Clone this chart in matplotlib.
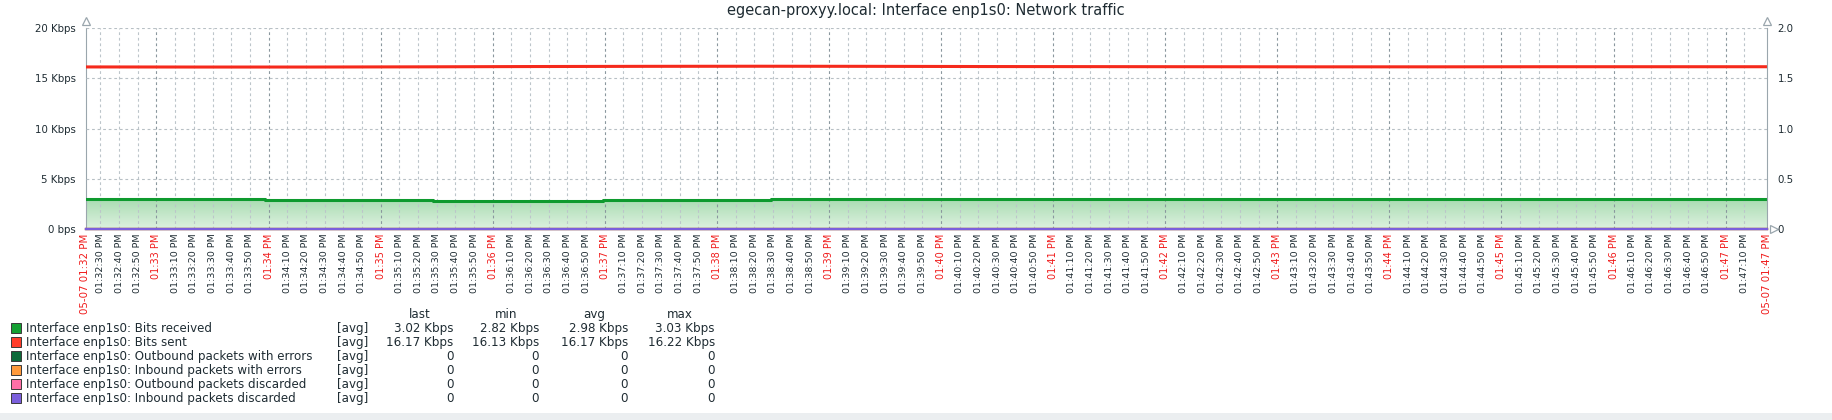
import numpy as np
import matplotlib
matplotlib.use("Agg")
import matplotlib.pyplot as plt
from matplotlib.patches import Rectangle
from matplotlib.colors import LinearSegmentedColormap
from matplotlib.ticker import FixedLocator, FuncFormatter

W, H = 1833, 420

title = "egecan-proxyy.local: Interface enp1s0: Network traffic"
start_label = "05-07 01:32 PM"
end_label = "05-07 01:47 PM"

# time axis: seconds after 01:32:00 PM
t_start, t_end = 22, 922

rx_times = [22, 118, 208, 299, 389, 922]
rx_kbps = [3.03, 2.90, 2.82, 2.92, 3.02, 3.02]

tx_times = [22, 82, 142, 202, 262, 322, 382, 442, 502, 562, 622, 682, 742, 802, 862, 922]
tx_kbps = [16.15, 16.14, 16.14, 16.16, 16.19, 16.21, 16.22, 16.21,
           16.19, 16.18, 16.17, 16.16, 16.16, 16.17, 16.17, 16.17]

pkt_times = [22, 922]
out_err = [0, 0]
in_err = [0, 0]
out_disc = [0, 0]
in_disc = [0, 0]

legend_names = ["Interface enp1s0: Bits received", "Interface enp1s0: Bits sent",
                "Interface enp1s0: Outbound packets with errors", "Interface enp1s0: Inbound packets with errors",
                "Interface enp1s0: Outbound packets discarded", "Interface enp1s0: Inbound packets discarded"]
legend_colors = ["#14a033", "#ff3d2a", "#0c6b3a", "#ff9a3c", "#ff6fa6", "#7b5fdc"]
stat_heads = ["last", "min", "avg", "max"]
stat_last = ["3.02 Kbps", "16.17 Kbps", "0", "0", "0", "0"]
stat_min = ["2.82 Kbps", "16.13 Kbps", "0", "0", "0", "0"]
stat_avg = ["2.98 Kbps", "16.17 Kbps", "0", "0", "0", "0"]
stat_max = ["3.03 Kbps", "16.22 Kbps", "0", "0", "0", "0"]

txt = "#1f2c33"
red_txt = "#f01c1c"
axis_col = "#9aa6ad"

fig = plt.figure(figsize=(W / 100, H / 100), dpi=100)
x0, x1, ytop, ybot = 85.5, 1766.7, 28.3, 229.0
ax = fig.add_axes([x0 / W, 1 - ybot / H, (x1 - x0) / W, (ybot - ytop) / H])
ax2 = ax.twinx()

# gradient fill under received line
cmap = LinearSegmentedColormap.from_list("g", ["#def2e0", "#a8dbb1"])
grad = np.linspace(0, 1, 256).reshape(-1, 1)
im = ax.imshow(grad, extent=[t_start, t_end, 0, max(rx_kbps)], origin="lower",
               aspect="auto", cmap=cmap, zorder=1)
fill = ax.fill_between(rx_times, rx_kbps, step="post", facecolor="none", edgecolor="none")
im.set_clip_path(fill.get_paths()[0], ax.transData)

ax.plot(rx_times, rx_kbps, drawstyle="steps-post", color="#0e9a2e", lw=2.2, zorder=3)
ax.plot(tx_times, tx_kbps, color="#f52a1c", lw=2.2, zorder=3)

for vals, col in zip([out_err, in_err, out_disc, in_disc], legend_colors[2:]):
    ax2.plot(pkt_times, vals, color=col, lw=1.6, clip_on=False, zorder=3)

ax.set_xlim(t_start, t_end)
ax.set_ylim(0, 20)
ax2.set_ylim(0, 2)

# grid
ax.xaxis.set_major_locator(FixedLocator(np.arange(60, 901, 60)))
ax.xaxis.set_minor_locator(FixedLocator(np.arange(30, 911, 10)))
ax.xaxis.set_major_formatter(FuncFormatter(lambda s, p: f"01:{32 + int(s) // 60:02d} PM"))
ax.xaxis.set_minor_formatter(FuncFormatter(lambda s, p: f"01:{32 + int(s) // 60:02d}:{int(s) % 60:02d} PM"))
ax.set_yticks([0, 5, 10, 15, 20])
ax.yaxis.set_major_formatter(FuncFormatter(lambda v, p: "0 bps" if v == 0 else f"{v:g} Kbps"))
ax2.set_yticks([0, 0.5, 1, 1.5, 2])
ax2.yaxis.set_major_formatter(FuncFormatter(lambda v, p: "0" if v == 0 else f"{v:.1f}"))

ax.set_axisbelow(False)
ax.grid(axis="x", which="minor", color="#bcc5ca", lw=0.8, ls=(0, (2.5, 2.5)), zorder=2)
ax.grid(axis="x", which="major", color="#8a979e", lw=0.8, ls=(0, (2.5, 2.5)), zorder=2)
ax.grid(axis="y", which="major", color="#b8c0c5", lw=0.8, ls=(0, (2.5, 2.5)), zorder=2)

ax.tick_params(axis="x", which="both", length=0, pad=3, labelrotation=90, labelsize=6.8, labelcolor=txt)
ax.tick_params(axis="x", which="major", labelcolor=red_txt, labelsize=7.0)
ax.tick_params(axis="y", length=0, pad=7, labelsize=7.4, labelcolor=txt)
ax2.tick_params(axis="y", length=0, pad=8, labelsize=7.4, labelcolor=txt)

for a in (ax, ax2):
    a.spines["top"].set_visible(False)
    a.spines["left"].set_color(axis_col)
    a.spines["right"].set_color(axis_col)
    a.spines["bottom"].set_color(axis_col)
ax2.spines["left"].set_visible(False)
ax.spines["right"].set_visible(False)

# axis arrows
ax.plot([0], [1 + 7 / 200.7], marker="^", ms=6, mfc="white", mec=axis_col, mew=0.9,
        transform=ax.transAxes, clip_on=False)
ax.plot([1], [1 + 7 / 200.7], marker="^", ms=6, mfc="white", mec=axis_col, mew=0.9,
        transform=ax.transAxes, clip_on=False)
ax.plot([1 + 7 / 1681], [0], marker=">", ms=6, mfc="white", mec=axis_col, mew=0.9,
        transform=ax.transAxes, clip_on=False)

for t, lab in [(t_start, start_label), (t_end, end_label)]:
    ax.annotate(lab, xy=(t, 0), xycoords=("data", "axes fraction"), xytext=(0, -3),
                textcoords="offset points", rotation=90, ha="center", va="top",
                color=red_txt, fontsize=7.4)

fig.text(926 / W, 1 - 11 / H, title, ha="center", va="center", fontsize=10.5, color=txt)


def fx(x):
    return x / W


def fy(y):
    return 1 - y / H


lsize = 8.6
for xc, head in zip([420, 506, 594, 680], stat_heads):
    fig.text(fx(xc), fy(314.5), head, ha="center", va="center", fontsize=lsize, color=txt)

for i, (name, col) in enumerate(zip(legend_names, legend_colors)):
    yc = 328.3 + 14 * i
    fig.add_artist(Rectangle((fx(10.7), fy(yc + 5)), 10 / W, 10 / H, transform=fig.transFigure,
                             facecolor=col, edgecolor="#3a3a3a", lw=0.7))
    fig.text(fx(26), fy(yc), name, ha="left", va="center", fontsize=lsize, color=txt)
    fig.text(fx(336.7), fy(yc), "[avg]", ha="left", va="center", fontsize=lsize, color=txt)
    for xr, col_vals in zip([453.6, 539, 628, 715], [stat_last, stat_min, stat_avg, stat_max]):
        fig.text(fx(xr), fy(yc), col_vals[i], ha="right", va="center", fontsize=lsize, color=txt)

fig.add_artist(Rectangle((0, 0), 1, 7 / H, transform=fig.transFigure, facecolor="#ebeef0",
                         edgecolor="none"))

fig.savefig("out.png", dpi=100, facecolor="white")
